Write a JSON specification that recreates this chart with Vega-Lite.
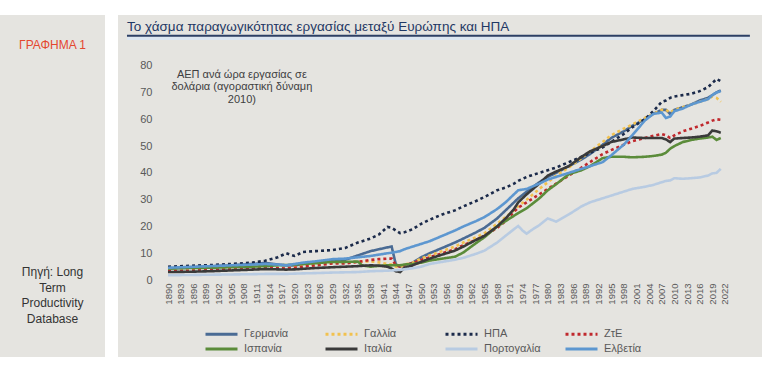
{
"$schema": "https://vega.github.io/schema/vega-lite/v6.json",
"background": "white",
"padding": {"left": 0, "top": 15, "right": 20, "bottom": 34},
"spacing": 13,
"config": {
 "font": "Liberation Sans",
 "view": {"stroke": null},
 "axisX": {"labelOverlap": false, "labelAngle": 270, "labelAlign": "right", "labelBaseline": "middle", "labelFontSize": 9.5, "labelColor": "#595959", "labelPadding": 3, "tickSize": 0, "ticks": false, "domain": false, "grid": false, "offset": -77, "labelFlush": false, "labelBound": false, "labelSeparation": 0},
 "axisY": {"labelFontSize": 11, "labelColor": "#595959", "labelPadding": 2, "tickSize": 0, "ticks": false, "domain": false, "grid": false, "offset": -36, "labelOverlap": false}
},
"datasets": {"series": [
{"country":"Γερμανία","year":1890,"value":4.3},{"country":"Γερμανία","year":1895,"value":4.7},{"country":"Γερμανία","year":1900,"value":5.1},{"country":"Γερμανία","year":1905,"value":5.5},{"country":"Γερμανία","year":1910,"value":6.0},{"country":"Γερμανία","year":1913,"value":6.4},{"country":"Γερμανία","year":1916,"value":5.8},{"country":"Γερμανία","year":1918,"value":5.5},{"country":"Γερμανία","year":1920,"value":5.4},{"country":"Γερμανία","year":1922,"value":6.0},{"country":"Γερμανία","year":1925,"value":6.6},{"country":"Γερμανία","year":1929,"value":7.4},{"country":"Γερμανία","year":1932,"value":7.6},{"country":"Γερμανία","year":1935,"value":9.2},{"country":"Γερμανία","year":1938,"value":10.8},{"country":"Γερμανία","year":1940,"value":11.5},{"country":"Γερμανία","year":1942,"value":12.2},{"country":"Γερμανία","year":1943,"value":12.5},{"country":"Γερμανία","year":1944,"value":5.8},{"country":"Γερμανία","year":1945,"value":5.0},{"country":"Γερμανία","year":1946,"value":5.3},{"country":"Γερμανία","year":1948,"value":6.5},{"country":"Γερμανία","year":1950,"value":8.5},{"country":"Γερμανία","year":1952,"value":10.0},{"country":"Γερμανία","year":1955,"value":12.0},{"country":"Γερμανία","year":1958,"value":14.0},{"country":"Γερμανία","year":1960,"value":15.5},{"country":"Γερμανία","year":1963,"value":17.8},{"country":"Γερμανία","year":1965,"value":19.5},{"country":"Γερμανία","year":1968,"value":23.0},{"country":"Γερμανία","year":1970,"value":26.0},{"country":"Γερμανία","year":1972,"value":29.0},{"country":"Γερμανία","year":1973,"value":30.5},{"country":"Γερμανία","year":1975,"value":33.0},{"country":"Γερμανία","year":1978,"value":36.5},{"country":"Γερμανία","year":1980,"value":38.5},{"country":"Γερμανία","year":1982,"value":40.0},{"country":"Γερμανία","year":1985,"value":42.5},{"country":"Γερμανία","year":1988,"value":45.0},{"country":"Γερμανία","year":1990,"value":47.0},{"country":"Γερμανία","year":1993,"value":50.5},{"country":"Γερμανία","year":1995,"value":53.0},{"country":"Γερμανία","year":1998,"value":55.5},{"country":"Γερμανία","year":2000,"value":57.5},{"country":"Γερμανία","year":2003,"value":60.0},{"country":"Γερμανία","year":2005,"value":62.0},{"country":"Γερμανία","year":2007,"value":63.5},{"country":"Γερμανία","year":2008,"value":63.5},{"country":"Γερμανία","year":2009,"value":62.0},{"country":"Γερμανία","year":2010,"value":63.5},{"country":"Γερμανία","year":2012,"value":64.5},{"country":"Γερμανία","year":2014,"value":65.5},{"country":"Γερμανία","year":2016,"value":67.0},{"country":"Γερμανία","year":2018,"value":68.0},{"country":"Γερμανία","year":2019,"value":69.0},{"country":"Γερμανία","year":2020,"value":70.0},{"country":"Γερμανία","year":2021,"value":70.8},
{"country":"Γαλλία","year":1890,"value":3.4},{"country":"Γαλλία","year":1895,"value":3.6},{"country":"Γαλλία","year":1900,"value":3.9},{"country":"Γαλλία","year":1905,"value":4.1},{"country":"Γαλλία","year":1910,"value":4.4},{"country":"Γαλλία","year":1913,"value":4.7},{"country":"Γαλλία","year":1916,"value":4.5},{"country":"Γαλλία","year":1918,"value":4.3},{"country":"Γαλλία","year":1920,"value":4.8},{"country":"Γαλλία","year":1922,"value":5.4},{"country":"Γαλλία","year":1925,"value":5.8},{"country":"Γαλλία","year":1929,"value":6.5},{"country":"Γαλλία","year":1932,"value":6.5},{"country":"Γαλλία","year":1935,"value":6.8},{"country":"Γαλλία","year":1938,"value":7.0},{"country":"Γαλλία","year":1940,"value":6.6},{"country":"Γαλλία","year":1942,"value":6.0},{"country":"Γαλλία","year":1943,"value":5.8},{"country":"Γαλλία","year":1944,"value":5.0},{"country":"Γαλλία","year":1945,"value":4.8},{"country":"Γαλλία","year":1946,"value":5.8},{"country":"Γαλλία","year":1948,"value":6.5},{"country":"Γαλλία","year":1950,"value":8.0},{"country":"Γαλλία","year":1952,"value":9.2},{"country":"Γαλλία","year":1955,"value":10.8},{"country":"Γαλλία","year":1958,"value":12.5},{"country":"Γαλλία","year":1960,"value":14.0},{"country":"Γαλλία","year":1963,"value":16.0},{"country":"Γαλλία","year":1965,"value":17.5},{"country":"Γαλλία","year":1968,"value":21.0},{"country":"Γαλλία","year":1970,"value":23.5},{"country":"Γαλλία","year":1972,"value":26.0},{"country":"Γαλλία","year":1973,"value":27.5},{"country":"Γαλλία","year":1975,"value":30.0},{"country":"Γαλλία","year":1978,"value":34.0},{"country":"Γαλλία","year":1980,"value":36.5},{"country":"Γαλλία","year":1982,"value":39.0},{"country":"Γαλλία","year":1985,"value":42.0},{"country":"Γαλλία","year":1988,"value":45.5},{"country":"Γαλλία","year":1990,"value":48.0},{"country":"Γαλλία","year":1993,"value":51.5},{"country":"Γαλλία","year":1995,"value":54.0},{"country":"Γαλλία","year":1998,"value":56.5},{"country":"Γαλλία","year":2000,"value":58.0},{"country":"Γαλλία","year":2003,"value":60.5},{"country":"Γαλλία","year":2005,"value":62.0},{"country":"Γαλλία","year":2007,"value":63.5},{"country":"Γαλλία","year":2008,"value":63.5},{"country":"Γαλλία","year":2009,"value":62.5},{"country":"Γαλλία","year":2010,"value":63.5},{"country":"Γαλλία","year":2012,"value":64.5},{"country":"Γαλλία","year":2014,"value":65.5},{"country":"Γαλλία","year":2016,"value":66.5},{"country":"Γαλλία","year":2018,"value":67.5},{"country":"Γαλλία","year":2019,"value":68.5},{"country":"Γαλλία","year":2020,"value":68.0},{"country":"Γαλλία","year":2021,"value":66.5},
{"country":"ΗΠΑ","year":1890,"value":5.0},{"country":"ΗΠΑ","year":1895,"value":5.3},{"country":"ΗΠΑ","year":1900,"value":5.6},{"country":"ΗΠΑ","year":1905,"value":6.0},{"country":"ΗΠΑ","year":1910,"value":6.5},{"country":"ΗΠΑ","year":1913,"value":7.2},{"country":"ΗΠΑ","year":1916,"value":8.5},{"country":"ΗΠΑ","year":1918,"value":10.0},{"country":"ΗΠΑ","year":1920,"value":9.0},{"country":"ΗΠΑ","year":1922,"value":10.5},{"country":"ΗΠΑ","year":1925,"value":10.8},{"country":"ΗΠΑ","year":1929,"value":11.2},{"country":"ΗΠΑ","year":1932,"value":12.0},{"country":"ΗΠΑ","year":1935,"value":14.0},{"country":"ΗΠΑ","year":1938,"value":15.5},{"country":"ΗΠΑ","year":1940,"value":17.0},{"country":"ΗΠΑ","year":1942,"value":19.8},{"country":"ΗΠΑ","year":1943,"value":19.5},{"country":"ΗΠΑ","year":1944,"value":18.5},{"country":"ΗΠΑ","year":1945,"value":17.5},{"country":"ΗΠΑ","year":1946,"value":17.8},{"country":"ΗΠΑ","year":1948,"value":19.0},{"country":"ΗΠΑ","year":1950,"value":21.0},{"country":"ΗΠΑ","year":1952,"value":22.5},{"country":"ΗΠΑ","year":1955,"value":24.5},{"country":"ΗΠΑ","year":1958,"value":26.0},{"country":"ΗΠΑ","year":1960,"value":27.5},{"country":"ΗΠΑ","year":1963,"value":29.5},{"country":"ΗΠΑ","year":1965,"value":31.0},{"country":"ΗΠΑ","year":1968,"value":33.5},{"country":"ΗΠΑ","year":1970,"value":34.5},{"country":"ΗΠΑ","year":1972,"value":36.0},{"country":"ΗΠΑ","year":1973,"value":37.0},{"country":"ΗΠΑ","year":1975,"value":38.5},{"country":"ΗΠΑ","year":1978,"value":40.0},{"country":"ΗΠΑ","year":1980,"value":41.0},{"country":"ΗΠΑ","year":1982,"value":42.0},{"country":"ΗΠΑ","year":1985,"value":44.0},{"country":"ΗΠΑ","year":1988,"value":46.0},{"country":"ΗΠΑ","year":1990,"value":47.5},{"country":"ΗΠΑ","year":1993,"value":49.5},{"country":"ΗΠΑ","year":1995,"value":51.5},{"country":"ΗΠΑ","year":1998,"value":54.5},{"country":"ΗΠΑ","year":2000,"value":57.0},{"country":"ΗΠΑ","year":2003,"value":60.0},{"country":"ΗΠΑ","year":2005,"value":63.0},{"country":"ΗΠΑ","year":2007,"value":66.5},{"country":"ΗΠΑ","year":2008,"value":67.0},{"country":"ΗΠΑ","year":2009,"value":68.0},{"country":"ΗΠΑ","year":2010,"value":68.5},{"country":"ΗΠΑ","year":2012,"value":69.0},{"country":"ΗΠΑ","year":2014,"value":69.5},{"country":"ΗΠΑ","year":2016,"value":70.5},{"country":"ΗΠΑ","year":2018,"value":72.0},{"country":"ΗΠΑ","year":2019,"value":73.5},{"country":"ΗΠΑ","year":2020,"value":75.0},{"country":"ΗΠΑ","year":2021,"value":74.2},
{"country":"ΖτΕ","year":1890,"value":3.3},{"country":"ΖτΕ","year":1895,"value":3.5},{"country":"ΖτΕ","year":1900,"value":3.8},{"country":"ΖτΕ","year":1905,"value":4.0},{"country":"ΖτΕ","year":1910,"value":4.3},{"country":"ΖτΕ","year":1913,"value":4.6},{"country":"ΖτΕ","year":1916,"value":4.4},{"country":"ΖτΕ","year":1918,"value":4.3},{"country":"ΖτΕ","year":1920,"value":4.6},{"country":"ΖτΕ","year":1922,"value":5.0},{"country":"ΖτΕ","year":1925,"value":5.5},{"country":"ΖτΕ","year":1929,"value":6.2},{"country":"ΖτΕ","year":1932,"value":6.2},{"country":"ΖτΕ","year":1935,"value":6.8},{"country":"ΖτΕ","year":1938,"value":7.5},{"country":"ΖτΕ","year":1940,"value":7.8},{"country":"ΖτΕ","year":1942,"value":8.0},{"country":"ΖτΕ","year":1943,"value":8.0},{"country":"ΖτΕ","year":1944,"value":5.5},{"country":"ΖτΕ","year":1945,"value":5.0},{"country":"ΖτΕ","year":1946,"value":5.5},{"country":"ΖτΕ","year":1948,"value":6.3},{"country":"ΖτΕ","year":1950,"value":7.5},{"country":"ΖτΕ","year":1952,"value":8.5},{"country":"ΖτΕ","year":1955,"value":10.0},{"country":"ΖτΕ","year":1958,"value":11.5},{"country":"ΖτΕ","year":1960,"value":13.0},{"country":"ΖτΕ","year":1963,"value":15.0},{"country":"ΖτΕ","year":1965,"value":16.5},{"country":"ΖτΕ","year":1968,"value":19.5},{"country":"ΖτΕ","year":1970,"value":22.0},{"country":"ΖτΕ","year":1972,"value":25.5},{"country":"ΖτΕ","year":1973,"value":27.0},{"country":"ΖτΕ","year":1975,"value":29.0},{"country":"ΖτΕ","year":1978,"value":32.0},{"country":"ΖτΕ","year":1980,"value":34.0},{"country":"ΖτΕ","year":1982,"value":36.0},{"country":"ΖτΕ","year":1985,"value":39.0},{"country":"ΖτΕ","year":1988,"value":42.0},{"country":"ΖτΕ","year":1990,"value":44.0},{"country":"ΖτΕ","year":1993,"value":47.0},{"country":"ΖτΕ","year":1995,"value":48.5},{"country":"ΖτΕ","year":1998,"value":50.5},{"country":"ΖτΕ","year":2000,"value":51.8},{"country":"ΖτΕ","year":2003,"value":53.0},{"country":"ΖτΕ","year":2005,"value":53.8},{"country":"ΖτΕ","year":2007,"value":54.5},{"country":"ΖτΕ","year":2008,"value":54.0},{"country":"ΖτΕ","year":2009,"value":53.0},{"country":"ΖτΕ","year":2010,"value":54.0},{"country":"ΖτΕ","year":2012,"value":55.5},{"country":"ΖτΕ","year":2014,"value":56.5},{"country":"ΖτΕ","year":2016,"value":57.5},{"country":"ΖτΕ","year":2018,"value":58.8},{"country":"ΖτΕ","year":2019,"value":59.5},{"country":"ΖτΕ","year":2020,"value":60.0},{"country":"ΖτΕ","year":2021,"value":59.8},
{"country":"Ισπανία","year":1890,"value":4.3},{"country":"Ισπανία","year":1895,"value":4.5},{"country":"Ισπανία","year":1900,"value":4.6},{"country":"Ισπανία","year":1905,"value":4.8},{"country":"Ισπανία","year":1910,"value":5.0},{"country":"Ισπανία","year":1913,"value":5.2},{"country":"Ισπανία","year":1916,"value":5.5},{"country":"Ισπανία","year":1918,"value":5.6},{"country":"Ισπανία","year":1920,"value":5.8},{"country":"Ισπανία","year":1922,"value":6.0},{"country":"Ισπανία","year":1925,"value":6.3},{"country":"Ισπανία","year":1929,"value":6.8},{"country":"Ισπανία","year":1932,"value":6.8},{"country":"Ισπανία","year":1935,"value":6.9},{"country":"Ισπανία","year":1936,"value":5.5},{"country":"Ισπανία","year":1938,"value":5.0},{"country":"Ισπανία","year":1940,"value":5.3},{"country":"Ισπανία","year":1942,"value":5.5},{"country":"Ισπανία","year":1943,"value":5.5},{"country":"Ισπανία","year":1944,"value":5.6},{"country":"Ισπανία","year":1945,"value":5.5},{"country":"Ισπανία","year":1946,"value":5.8},{"country":"Ισπανία","year":1948,"value":6.0},{"country":"Ισπανία","year":1950,"value":6.5},{"country":"Ισπανία","year":1952,"value":7.3},{"country":"Ισπανία","year":1955,"value":8.0},{"country":"Ισπανία","year":1958,"value":8.7},{"country":"Ισπανία","year":1960,"value":10.3},{"country":"Ισπανία","year":1963,"value":13.8},{"country":"Ισπανία","year":1965,"value":16.0},{"country":"Ισπανία","year":1968,"value":20.0},{"country":"Ισπανία","year":1970,"value":22.0},{"country":"Ισπανία","year":1972,"value":24.0},{"country":"Ισπανία","year":1973,"value":25.0},{"country":"Ισπανία","year":1975,"value":26.8},{"country":"Ισπανία","year":1978,"value":30.5},{"country":"Ισπανία","year":1980,"value":33.5},{"country":"Ισπανία","year":1982,"value":35.8},{"country":"Ισπανία","year":1985,"value":39.5},{"country":"Ισπανία","year":1988,"value":41.0},{"country":"Ισπανία","year":1990,"value":42.5},{"country":"Ισπανία","year":1993,"value":45.5},{"country":"Ισπανία","year":1995,"value":46.0},{"country":"Ισπανία","year":1998,"value":46.0},{"country":"Ισπανία","year":2000,"value":45.8},{"country":"Ισπανία","year":2003,"value":46.0},{"country":"Ισπανία","year":2005,"value":46.3},{"country":"Ισπανία","year":2007,"value":46.8},{"country":"Ισπανία","year":2008,"value":47.5},{"country":"Ισπανία","year":2009,"value":49.0},{"country":"Ισπανία","year":2010,"value":50.0},{"country":"Ισπανία","year":2012,"value":51.5},{"country":"Ισπανία","year":2014,"value":52.3},{"country":"Ισπανία","year":2016,"value":52.8},{"country":"Ισπανία","year":2018,"value":53.2},{"country":"Ισπανία","year":2019,"value":53.5},{"country":"Ισπανία","year":2020,"value":52.3},{"country":"Ισπανία","year":2021,"value":53.0},
{"country":"Ιταλία","year":1890,"value":3.0},{"country":"Ιταλία","year":1895,"value":3.1},{"country":"Ιταλία","year":1900,"value":3.3},{"country":"Ιταλία","year":1905,"value":3.6},{"country":"Ιταλία","year":1910,"value":3.9},{"country":"Ιταλία","year":1913,"value":4.1},{"country":"Ιταλία","year":1916,"value":4.0},{"country":"Ιταλία","year":1918,"value":3.9},{"country":"Ιταλία","year":1920,"value":4.0},{"country":"Ιταλία","year":1922,"value":4.2},{"country":"Ιταλία","year":1925,"value":4.5},{"country":"Ιταλία","year":1929,"value":4.8},{"country":"Ιταλία","year":1932,"value":5.0},{"country":"Ιταλία","year":1935,"value":5.2},{"country":"Ιταλία","year":1938,"value":5.5},{"country":"Ιταλία","year":1940,"value":5.4},{"country":"Ιταλία","year":1942,"value":5.0},{"country":"Ιταλία","year":1943,"value":4.3},{"country":"Ιταλία","year":1944,"value":3.3},{"country":"Ιταλία","year":1945,"value":3.0},{"country":"Ιταλία","year":1946,"value":4.5},{"country":"Ιταλία","year":1948,"value":5.5},{"country":"Ιταλία","year":1950,"value":6.8},{"country":"Ιταλία","year":1952,"value":8.0},{"country":"Ιταλία","year":1955,"value":9.5},{"country":"Ιταλία","year":1958,"value":11.0},{"country":"Ιταλία","year":1960,"value":12.5},{"country":"Ιταλία","year":1963,"value":15.0},{"country":"Ιταλία","year":1965,"value":16.5},{"country":"Ιταλία","year":1968,"value":20.0},{"country":"Ιταλία","year":1970,"value":23.0},{"country":"Ιταλία","year":1972,"value":26.5},{"country":"Ιταλία","year":1973,"value":29.0},{"country":"Ιταλία","year":1975,"value":32.0},{"country":"Ιταλία","year":1978,"value":36.0},{"country":"Ιταλία","year":1980,"value":39.0},{"country":"Ιταλία","year":1982,"value":40.5},{"country":"Ιταλία","year":1985,"value":42.5},{"country":"Ιταλία","year":1988,"value":46.0},{"country":"Ιταλία","year":1990,"value":48.0},{"country":"Ιταλία","year":1993,"value":50.0},{"country":"Ιταλία","year":1995,"value":51.5},{"country":"Ιταλία","year":1998,"value":52.5},{"country":"Ιταλία","year":2000,"value":53.2},{"country":"Ιταλία","year":2003,"value":53.0},{"country":"Ιταλία","year":2005,"value":53.0},{"country":"Ιταλία","year":2007,"value":53.0},{"country":"Ιταλία","year":2008,"value":52.5},{"country":"Ιταλία","year":2009,"value":51.5},{"country":"Ιταλία","year":2010,"value":52.8},{"country":"Ιταλία","year":2012,"value":53.0},{"country":"Ιταλία","year":2014,"value":53.2},{"country":"Ιταλία","year":2016,"value":53.5},{"country":"Ιταλία","year":2018,"value":54.0},{"country":"Ιταλία","year":2019,"value":55.8},{"country":"Ιταλία","year":2020,"value":55.5},{"country":"Ιταλία","year":2021,"value":55.0},
{"country":"Πορτογαλία","year":1890,"value":1.8},{"country":"Πορτογαλία","year":1895,"value":1.9},{"country":"Πορτογαλία","year":1900,"value":2.0},{"country":"Πορτογαλία","year":1905,"value":2.1},{"country":"Πορτογαλία","year":1910,"value":2.2},{"country":"Πορτογαλία","year":1913,"value":2.3},{"country":"Πορτογαλία","year":1916,"value":2.3},{"country":"Πορτογαλία","year":1918,"value":2.3},{"country":"Πορτογαλία","year":1920,"value":2.4},{"country":"Πορτογαλία","year":1922,"value":2.5},{"country":"Πορτογαλία","year":1925,"value":2.6},{"country":"Πορτογαλία","year":1929,"value":2.8},{"country":"Πορτογαλία","year":1932,"value":2.9},{"country":"Πορτογαλία","year":1935,"value":3.0},{"country":"Πορτογαλία","year":1938,"value":3.3},{"country":"Πορτογαλία","year":1940,"value":3.4},{"country":"Πορτογαλία","year":1942,"value":3.5},{"country":"Πορτογαλία","year":1943,"value":3.6},{"country":"Πορτογαλία","year":1944,"value":3.7},{"country":"Πορτογαλία","year":1945,"value":3.8},{"country":"Πορτογαλία","year":1946,"value":4.0},{"country":"Πορτογαλία","year":1948,"value":4.4},{"country":"Πορτογαλία","year":1950,"value":5.0},{"country":"Πορτογαλία","year":1952,"value":6.0},{"country":"Πορτογαλία","year":1955,"value":6.8},{"country":"Πορτογαλία","year":1958,"value":7.6},{"country":"Πορτογαλία","year":1960,"value":8.3},{"country":"Πορτογαλία","year":1963,"value":9.8},{"country":"Πορτογαλία","year":1965,"value":11.0},{"country":"Πορτογαλία","year":1968,"value":14.0},{"country":"Πορτογαλία","year":1970,"value":16.5},{"country":"Πορτογαλία","year":1972,"value":19.0},{"country":"Πορτογαλία","year":1973,"value":20.2},{"country":"Πορτογαλία","year":1974,"value":18.5},{"country":"Πορτογαλία","year":1975,"value":17.3},{"country":"Πορτογαλία","year":1976,"value":18.5},{"country":"Πορτογαλία","year":1978,"value":20.5},{"country":"Πορτογαλία","year":1980,"value":23.0},{"country":"Πορτογαλία","year":1982,"value":21.8},{"country":"Πορτογαλία","year":1985,"value":24.5},{"country":"Πορτογαλία","year":1988,"value":27.5},{"country":"Πορτογαλία","year":1990,"value":29.0},{"country":"Πορτογαλία","year":1993,"value":30.5},{"country":"Πορτογαλία","year":1995,"value":31.5},{"country":"Πορτογαλία","year":1998,"value":33.0},{"country":"Πορτογαλία","year":2000,"value":34.0},{"country":"Πορτογαλία","year":2003,"value":34.8},{"country":"Πορτογαλία","year":2005,"value":35.5},{"country":"Πορτογαλία","year":2007,"value":36.5},{"country":"Πορτογαλία","year":2008,"value":37.0},{"country":"Πορτογαλία","year":2009,"value":37.2},{"country":"Πορτογαλία","year":2010,"value":38.0},{"country":"Πορτογαλία","year":2012,"value":37.8},{"country":"Πορτογαλία","year":2014,"value":38.0},{"country":"Πορτογαλία","year":2016,"value":38.3},{"country":"Πορτογαλία","year":2018,"value":39.0},{"country":"Πορτογαλία","year":2019,"value":39.8},{"country":"Πορτογαλία","year":2020,"value":40.0},{"country":"Πορτογαλία","year":2021,"value":41.5},
{"country":"Ελβετία","year":1890,"value":4.6},{"country":"Ελβετία","year":1895,"value":4.9},{"country":"Ελβετία","year":1900,"value":5.2},{"country":"Ελβετία","year":1905,"value":5.5},{"country":"Ελβετία","year":1910,"value":5.8},{"country":"Ελβετία","year":1913,"value":6.0},{"country":"Ελβετία","year":1916,"value":5.8},{"country":"Ελβετία","year":1918,"value":5.5},{"country":"Ελβετία","year":1920,"value":6.0},{"country":"Ελβετία","year":1922,"value":6.5},{"country":"Ελβετία","year":1925,"value":7.0},{"country":"Ελβετία","year":1929,"value":7.8},{"country":"Ελβετία","year":1932,"value":8.0},{"country":"Ελβετία","year":1935,"value":8.5},{"country":"Ελβετία","year":1938,"value":9.0},{"country":"Ελβετία","year":1940,"value":9.5},{"country":"Ελβετία","year":1942,"value":10.0},{"country":"Ελβετία","year":1943,"value":10.2},{"country":"Ελβετία","year":1944,"value":10.5},{"country":"Ελβετία","year":1945,"value":10.8},{"country":"Ελβετία","year":1946,"value":11.5},{"country":"Ελβετία","year":1948,"value":12.5},{"country":"Ελβετία","year":1950,"value":13.5},{"country":"Ελβετία","year":1952,"value":14.5},{"country":"Ελβετία","year":1955,"value":16.5},{"country":"Ελβετία","year":1958,"value":18.5},{"country":"Ελβετία","year":1960,"value":20.0},{"country":"Ελβετία","year":1963,"value":22.0},{"country":"Ελβετία","year":1965,"value":23.5},{"country":"Ελβετία","year":1968,"value":26.5},{"country":"Ελβετία","year":1970,"value":29.0},{"country":"Ελβετία","year":1972,"value":32.0},{"country":"Ελβετία","year":1973,"value":33.5},{"country":"Ελβετία","year":1975,"value":34.0},{"country":"Ελβετία","year":1978,"value":36.0},{"country":"Ελβετία","year":1980,"value":37.5},{"country":"Ελβετία","year":1982,"value":38.5},{"country":"Ελβετία","year":1985,"value":40.0},{"country":"Ελβετία","year":1988,"value":41.5},{"country":"Ελβετία","year":1990,"value":42.5},{"country":"Ελβετία","year":1993,"value":44.0},{"country":"Ελβετία","year":1995,"value":46.5},{"country":"Ελβετία","year":1998,"value":50.5},{"country":"Ελβετία","year":2000,"value":54.0},{"country":"Ελβετία","year":2003,"value":59.5},{"country":"Ελβετία","year":2005,"value":62.0},{"country":"Ελβετία","year":2007,"value":62.5},{"country":"Ελβετία","year":2008,"value":60.5},{"country":"Ελβετία","year":2009,"value":61.0},{"country":"Ελβετία","year":2010,"value":63.0},{"country":"Ελβετία","year":2012,"value":64.0},{"country":"Ελβετία","year":2014,"value":65.5},{"country":"Ελβετία","year":2016,"value":66.5},{"country":"Ελβετία","year":2018,"value":67.5},{"country":"Ελβετία","year":2019,"value":69.0},{"country":"Ελβετία","year":2020,"value":70.0},{"country":"Ελβετία","year":2021,"value":70.5}
]},
"hconcat": [
{
"width": 105, "height": 342,
"view": {"fill": "#e5e4e0", "stroke": null},
"data": {"values": [{}]},
"layer": [
{"mark": {"type": "text", "text": "ΓΡΑΦΗΜΑ 1", "font": "Liberation Sans Narrow, Liberation Sans", "fontSize": 12, "color": "#e4472f", "align": "center", "baseline": "middle"},
 "encoding": {"x": {"datum": 50, "type": "quantitative", "scale": {"domain": [0, 100]}, "axis": null},
              "y": {"datum": 91.2, "type": "quantitative", "scale": {"domain": [0, 100]}, "axis": null}}},
{"mark": {"type": "text", "text": ["Πηγή: Long", "Term", "Productivity", "Database"], "fontSize": 12, "lineHeight": 15.5, "color": "#333333", "align": "center", "baseline": "middle"},
 "encoding": {"x": {"datum": 50, "type": "quantitative", "scale": {"domain": [0, 100]}, "axis": null},
              "y": {"datum": 24.85, "type": "quantitative", "scale": {"domain": [0, 100]}, "axis": null}}}
]
},
{
"width": 644, "height": 342,
"view": {"fill": "#e5e4e0", "stroke": null},
"resolve": {"axis": {"x": "independent"}},
"layer": [
{"data": {"name": "series"},
 "mark": {"type": "line", "strokeWidth": 2.6},
 "encoding": {
  "x": {"field": "year", "type": "quantitative", "scale": {"domain": [1878.15, 2030.77], "nice": false, "zero": false},
        "axis": {"title": null, "format": "d", "orient": "bottom", "values": [1890,1902,1914,1926,1938,1950,1962,1974,1986,1998,2010,2022]}},
  "y": {"field": "value", "type": "quantitative", "scale": {"domain": [-28.7, 98.9], "nice": false, "zero": false},
        "axis": {"title": null, "values": [0,10,20,30,40,50,60,70,80]}},
  "color": {"field": "country", "type": "nominal",
            "scale": {"domain": ["Γερμανία","Γαλλία","ΗΠΑ","ΖτΕ","Ισπανία","Ιταλία","Πορτογαλία","Ελβετία"],
                      "range": ["#4a6b94","#f2c14e","#1b2a4a","#c0282d","#5b8c3a","#3a3a3a","#b8cbe2","#5d97d0"]},
            "legend": {"title": null, "orient": "none", "legendX": 204, "legendY": 313.5, "columns": 4, "direction": "horizontal", "symbolType": "M-4,0H4", "symbolSize": 64, "symbolOffset": 12, "symbolStrokeWidth": 3, "labelFontSize": 11, "labelColor": "#595959", "columnPadding": 18, "rowPadding": 2, "gridAlign": "all", "labelOffset": 17, "padding": 0}},
  "strokeDash": {"field": "country", "type": "nominal",
            "scale": {"domain": ["Γερμανία","Γαλλία","ΗΠΑ","ΖτΕ","Ισπανία","Ιταλία","Πορτογαλία","Ελβετία"],
                      "range": [[1,0],[3,3],[3,3],[3,3],[1,0],[1,0],[1,0],[1,0]]},
            "legend": {"title": null, "orient": "none", "legendX": 204, "legendY": 313.5, "columns": 4, "direction": "horizontal", "symbolType": "M-4,0H4", "symbolSize": 64, "symbolOffset": 12, "symbolStrokeWidth": 3, "labelFontSize": 11, "labelColor": "#595959", "columnPadding": 18, "rowPadding": 2, "gridAlign": "all", "labelOffset": 17, "padding": 0}}
 }},
{"data": {"values": [{}]},
 "mark": {"type": "text", "text": "Το χάσμα παραγωγικότητας εργασίας μεταξύ Ευρώπης και ΗΠΑ", "align": "left", "baseline": "middle", "fontSize": 13.5, "color": "#1f3864"},
 "encoding": {"x": {"datum": 1880.28, "type": "quantitative", "axis": {"title": null, "format": "d", "orient": "bottom", "values": [1893,1905,1917,1929,1941,1953,1965,1977,1989,2001,2013]}},
              "y": {"datum": 94.4, "type": "quantitative", "title": null}}},
{"data": {"values": [{}]},
 "mark": {"type": "rule", "color": "#dce6f1", "strokeWidth": 3},
 "encoding": {"x": {"datum": 1880.28, "type": "quantitative", "axis": {"title": null, "format": "d", "orient": "bottom", "values": [1896,1908,1920,1932,1944,1956,1968,1980,1992,2004,2016]}},
              "x2": {"datum": 2027.9}, "y": {"datum": 90.1, "type": "quantitative", "title": null}}},
{"data": {"values": [{}]},
 "mark": {"type": "rule", "color": "#2b3f66", "strokeWidth": 2},
 "encoding": {"x": {"datum": 1880.28, "type": "quantitative", "axis": {"title": null, "format": "d", "orient": "bottom", "values": [1899,1911,1923,1935,1947,1959,1971,1983,1995,2007,2019]}},
              "x2": {"datum": 2027.9}, "y": {"datum": 91.2, "type": "quantitative", "title": null}}},
{"data": {"values": [{}]},
 "mark": {"type": "text", "text": ["ΑΕΠ ανά ώρα εργασίας σε", "δολάρια (αγοραστική δύναμη", "2010)"], "align": "center", "baseline": "middle", "fontSize": 11, "lineHeight": 12.5, "color": "#404040"},
 "encoding": {"x": {"datum": 1907.5, "type": "quantitative", "axis": null}, "y": {"datum": 76.7, "type": "quantitative", "title": null}}}
]
}
]
}
